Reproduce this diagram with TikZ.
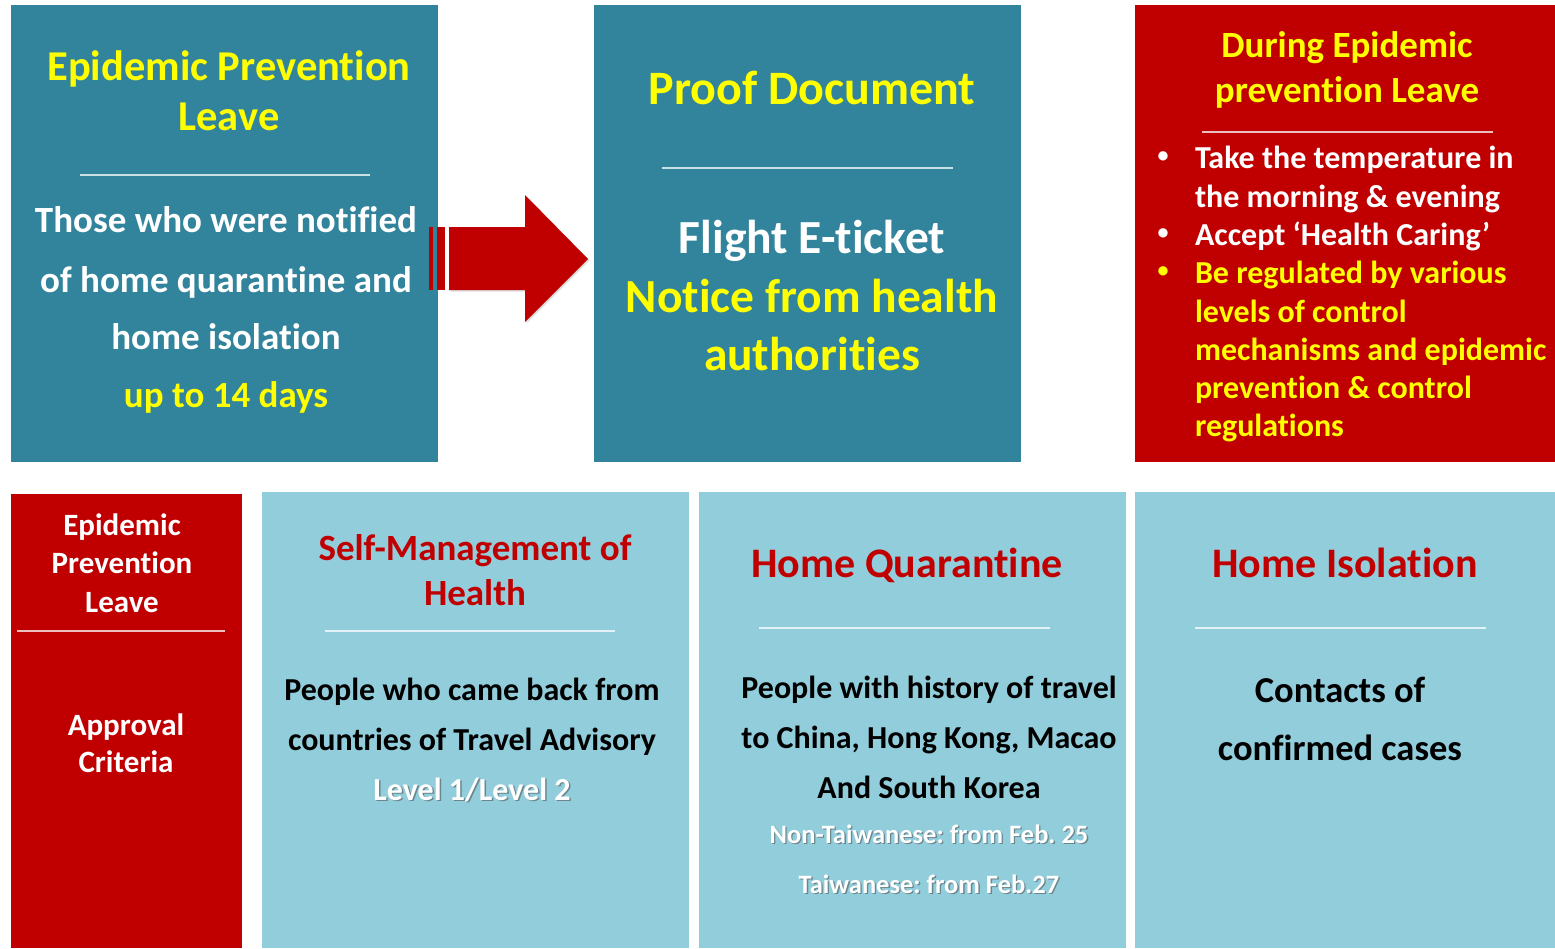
\documentclass[tikz,border=0pt]{standalone}
\usepackage{fontspec}
\setmainfont{Carlito}[Ligatures={NoCommon}]
\usetikzlibrary{shadows}
\definecolor{tealbox}{HTML}{31849B}
\definecolor{lightbox}{HTML}{92CDDC}
\definecolor{redbox}{HTML}{C00000}
\definecolor{yel}{HTML}{FFFF00}
\newcommand\fsz[1]{\fontsize{#1}{#1}\selectfont\bfseries\frenchspacing}
\begin{document}
\begin{tikzpicture}[x=1pt,y=-1pt,
  panel/.style={rectangle,inner sep=0pt,outer sep=0pt,draw=none},
  txt/.style={anchor=base,inner sep=0pt,outer sep=0pt},
  ltxt/.style={anchor=base west,inner sep=0pt,outer sep=0pt},
  bul/.style={anchor=center,inner sep=0pt,outer sep=0pt,font=\fsz{22}},
  shd/.style={anchor=base,inner sep=0pt,outer sep=0pt,text=black!70,opacity=0.55},
  sepline/.style={white,opacity=0.75,line width=1.3pt},
  blockarrow/.style={fill=redbox,draw=none}]
\useasboundingbox (0,0) rectangle (1555,948);
\fill[white] (0,0) rectangle (1555,948);

% ---------- panels ----------
\node[panel,fill=tealbox,minimum width=427pt,minimum height=457pt] (p1) at (224.5,233.5) {};
\node[panel,fill=tealbox,minimum width=427pt,minimum height=457pt] (p2) at (807.5,233.5) {};
\node[panel,fill=redbox,minimum width=420pt,minimum height=457pt] (p3) at (1345,233.5) {};
\node[panel,fill=redbox,minimum width=231pt,minimum height=454pt] (p4) at (126.5,721) {};
\node[panel,fill=lightbox,minimum width=427pt,minimum height=456pt] (p5) at (475.5,720) {};
\node[panel,fill=lightbox,minimum width=427pt,minimum height=456pt] (p6) at (912.5,720) {};
\node[panel,fill=lightbox,minimum width=420pt,minimum height=456pt] (p7) at (1345,720) {};

% ---------- block arrow ----------
\fill[blockarrow,drop shadow={opacity=0.25,shadow xshift=1.5pt,shadow yshift=-1.5pt}]
  (449,227) -- (525,227) -- (525,195) -- (588,259) -- (525,322) -- (525,290) -- (449,290) -- cycle;
\fill[blockarrow] (429.3,227) rectangle (433.3,290);
\fill[blockarrow] (437.3,227) rectangle (445,290);

% ---------- panel 1 ----------
\node[txt,text=yel,font=\fsz{42.5}] (a1) at (229,80) {Epidemic Prevention};
\node[txt,text=yel,font=\fsz{42.5}] (a2) at (229,130) {Leave};
\draw[sepline] (80,175) -- (370,175);
\node[txt,text=white,font=\fsz{37}] (a3) at (226,232) {Those who were notified};
\node[txt,text=white,font=\fsz{37}] (a4) at (226,292) {of home quarantine and};
\node[txt,text=white,font=\fsz{37}] (a5) at (226,349) {home isolation};
\node[txt,text=yel,font=\fsz{37}] (a6) at (226,407) {up to 14 days};

% ---------- panel 2 ----------
\node[txt,text=yel,font=\fsz{48}] (b1) at (812,104) {Proof Document};
\draw[sepline] (662,168) -- (953,168);
\node[txt,text=white,font=\fsz{47.5}] (b2) at (812,253) {Flight E-ticket};
\node[txt,text=yel,font=\fsz{47.5}] (b3) at (812,312) {Notice from health};
\node[txt,text=yel,font=\fsz{47.5}] (b4) at (812,370) {authorities};

% ---------- panel 3 ----------
\node[txt,text=yel,font=\fsz{37}] (c1) at (1347,57) {During Epidemic};
\node[txt,text=yel,font=\fsz{37}] (c2) at (1347,102) {prevention Leave};
\draw[sepline] (1202,132) -- (1493,132);
\node[bul,text=white] (cb1) at (1163,157) {•};
\node[bul,text=white] (cb2) at (1163,234) {•};
\node[bul,text=yel] (cb3) at (1163,272) {•};
\node[ltxt,text=white,font=\fsz{32}] (c3) at (1195,168) {Take the temperature in};
\node[ltxt,text=white,font=\fsz{32}] (c4) at (1195,207) {the morning \& evening};
\node[ltxt,text=white,font=\fsz{32}] (c5) at (1195,245) {Accept ‘Health Caring’};
\node[ltxt,text=yel,font=\fsz{32}] (c6) at (1195,283) {Be regulated by various};
\node[ltxt,text=yel,font=\fsz{32}] (c7) at (1195,322) {levels of control};
\node[ltxt,text=yel,font=\fsz{32}] (c8) at (1195,360) {mechanisms and epidemic};
\node[ltxt,text=yel,font=\fsz{32}] (c9) at (1195,398) {prevention \& control};
\node[ltxt,text=yel,font=\fsz{32}] (c10) at (1195,436) {regulations};

% ---------- panel 4 ----------
\node[txt,text=white,font=\fsz{31}] (d1) at (122,535) {Epidemic};
\node[txt,text=white,font=\fsz{31}] (d2) at (122,573) {Prevention};
\node[txt,text=white,font=\fsz{31}] (d3) at (122,612) {Leave};
\draw[sepline] (17,631) -- (225,631);
\node[txt,text=white,font=\fsz{31}] (d4) at (126,735) {Approval};
\node[txt,text=white,font=\fsz{31}] (d5) at (126,772) {Criteria};

% ---------- panel 5 ----------
\node[txt,text=redbox,font=\fsz{37}] (e1) at (475,560) {Self-Management of};
\node[txt,text=redbox,font=\fsz{37}] (e2) at (475,605) {Health};
\draw[sepline] (325,631) -- (615,631);
\node[txt,text=black,font=\fsz{32}] (e3) at (472,700) {People who came back from};
\node[txt,text=black,font=\fsz{32}] (e4) at (472,750) {countries of Travel Advisory};
\node[shd,font=\fsz{32}] (e5s) at (473.5,801.5) {Level 1/Level 2};
\node[txt,text=white,font=\fsz{32}] (e5) at (472,800) {Level 1/Level 2};

% ---------- panel 6 ----------
\node[txt,text=redbox,font=\fsz{42}] (f1) at (907,577) {Home Quarantine};
\draw[sepline] (759,628) -- (1050,628);
\node[txt,text=black,font=\fsz{32}] (f2) at (929,698) {People with history of travel};
\node[txt,text=black,font=\fsz{32}] (f3) at (929,748) {to China, Hong Kong, Macao};
\node[txt,text=black,font=\fsz{32}] (f4) at (929,798) {And South Korea};
\node[shd,font=\fsz{26.5}] (f5s) at (930.3,844.3) {Non-Taiwanese: from Feb. 25};
\node[txt,text=white,font=\fsz{26.5}] (f5) at (929,843) {Non-Taiwanese: from Feb. 25};
\node[shd,font=\fsz{26.5}] (f6s) at (930.3,894.3) {Taiwanese: from Feb.27};
\node[txt,text=white,font=\fsz{26.5}] (f6) at (929,893) {Taiwanese: from Feb.27};

% ---------- panel 7 ----------
\node[txt,text=redbox,font=\fsz{42}] (g1) at (1345,577) {Home Isolation};
\draw[sepline] (1195,628) -- (1486,628);
\node[txt,text=black,font=\fsz{36.5}] (g2) at (1340,702) {Contacts of};
\node[txt,text=black,font=\fsz{36.5}] (g3) at (1340,760) {confirmed cases};
\end{tikzpicture}
\end{document}
